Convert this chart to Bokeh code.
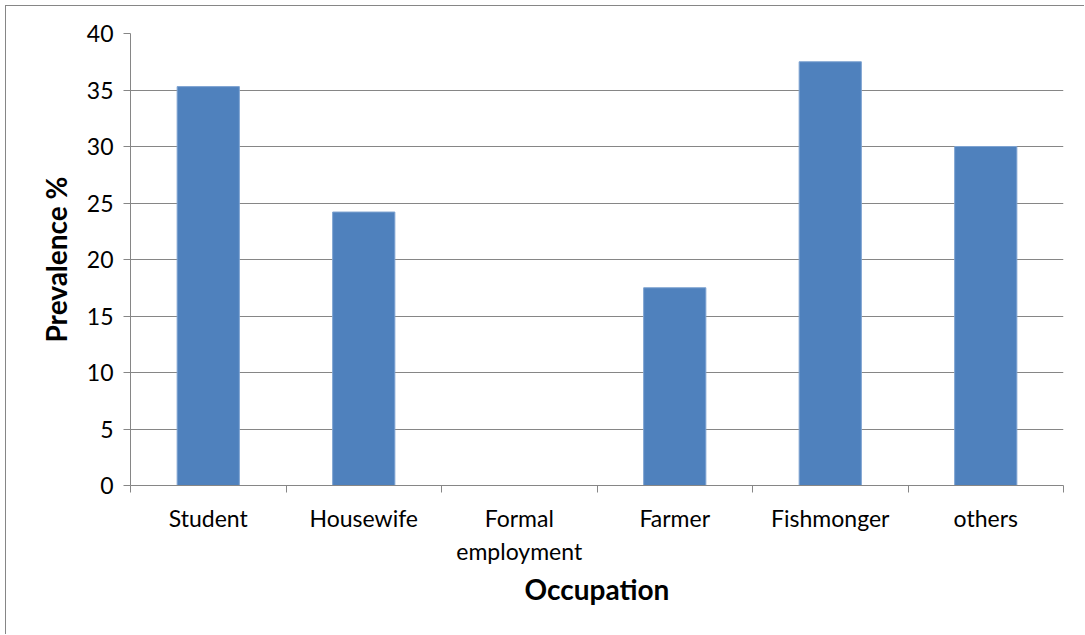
from bokeh.plotting import figure
from bokeh.models import FixedTicker, Range1d
from bokeh.embed import file_html
from bokeh.resources import INLINE

# Prevalence by occupation
categories = ["Student", "Housewife", "Formal\nemployment", "Farmer", "Fishmonger", "others"]
prevalence = [35.3, 24.2, 0.0, 17.5, 37.5, 30.0]
y_ticks = [0, 5, 10, 15, 20, 25, 30, 35, 40]

FONT = "Lato"
GRAY = "#868686"

centers = [i + 0.5 for i in range(len(categories))]
boundaries = list(range(len(categories) + 1))

p = figure(width=1079, height=629, output_backend="svg", toolbar_location=None,
           x_range=Range1d(0, len(categories)), y_range=Range1d(0, 40),
           min_border_left=124, min_border_right=22, min_border_top=27,
           min_border_bottom=150)
p.outline_line_color = None
p.background_fill_color = "white"
p.border_fill_color = "white"
# chart area frame (top and left edges visible)
p.styles = {"border-left": f"1px solid {GRAY}", "border-top": f"1px solid {GRAY}",
            "margin-left": "5px", "margin-top": "5px"}

p.vbar(x=centers, top=prevalence, width=0.4, bottom=0,
       fill_color="#4F81BD", line_color="#7EA3D1", line_width=1)

# y axis
p.yaxis.ticker = FixedTicker(ticks=y_ticks, minor_ticks=[])
p.yaxis.axis_line_color = GRAY
p.yaxis.major_tick_line_color = GRAY
p.yaxis.major_tick_in = 0
p.yaxis.major_tick_out = 7
p.yaxis.major_label_text_font = FONT
p.yaxis.major_label_text_font_size = "23px"
p.yaxis.major_label_text_color = "black"
p.yaxis.major_label_standoff = 10
p.yaxis.axis_label = "Prevalence %"
p.yaxis.axis_label_text_font = FONT
p.yaxis.axis_label_text_font_size = "28px"
p.yaxis.axis_label_text_font_style = "bold"
p.yaxis.axis_label_text_color = "black"
p.yaxis.axis_label_standoff = 11

# x axis: labels at category centres, tick marks on category boundaries
p.xaxis.ticker = FixedTicker(ticks=centers, minor_ticks=boundaries)
p.xaxis.major_label_overrides = {c: lab for c, lab in zip(centers, categories)}
p.xaxis.axis_line_color = GRAY
p.xaxis.major_tick_line_color = None
p.xaxis.major_tick_in = 0
p.xaxis.major_tick_out = 0
p.xaxis.minor_tick_line_color = GRAY
p.xaxis.minor_tick_in = 0
p.xaxis.minor_tick_out = 7
p.xaxis.major_label_text_font = FONT
p.xaxis.major_label_text_font_size = "23px"
p.xaxis.major_label_text_color = "black"
p.xaxis.major_label_standoff = 11
p.xaxis.axis_label = "Occupation"
p.xaxis.axis_label_text_font = FONT
p.xaxis.axis_label_text_font_size = "28px"
p.xaxis.axis_label_text_font_style = "bold"
p.xaxis.axis_label_text_color = "black"
p.xaxis.axis_label_standoff = 4

p.xgrid.grid_line_color = None
p.ygrid.ticker = FixedTicker(ticks=y_ticks)
p.ygrid.grid_line_color = GRAY
p.ygrid.grid_line_width = 1

open("out.html", "w").write(file_html(p, INLINE))
